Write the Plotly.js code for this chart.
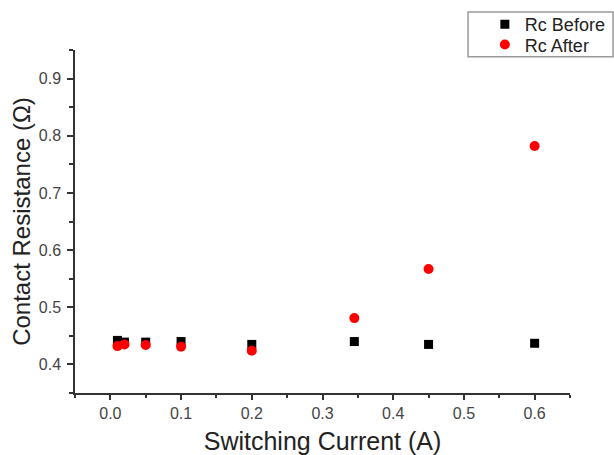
<!DOCTYPE html>
<html><head><meta charset="utf-8">
<script src="https://cdn.plot.ly/plotly-3.0.1.min.js"></script>
<style>html,body{margin:0;padding:0;background:#fff}#c{width:614px;height:455px}</style>
</head><body><div id="c"></div>
<script>
const current = [0.01, 0.02, 0.05, 0.1, 0.2, 0.345, 0.45, 0.6];
const rcBefore = [0.442, 0.439, 0.439, 0.440, 0.435, 0.440, 0.435, 0.437];
const rcAfter = [0.432, 0.435, 0.434, 0.431, 0.424, 0.481, 0.567, 0.782];

const FONT = 'Liberation Sans, Arial, sans-serif';
const data = [
  {x: current, y: rcBefore, mode: 'markers', type: 'scatter', name: 'Rc Before', legend: 'legend',
   marker: {symbol: 'square', size: 9, color: '#000'}},
  {x: current, y: rcAfter, mode: 'markers', type: 'scatter', name: 'Rc After', legend: 'legend2',
   marker: {symbol: 'circle', size: 10, color: '#ff0000'}}
];
const axisCommon = {showgrid: false, zeroline: false, showline: true, linecolor: '#333', linewidth: 1.5,
  ticks: 'outside', tickwidth: 1.5, tickcolor: '#333', automargin: false,
  tickfont: {family: FONT, size: 16, color: '#444'}};
const legCommon = {xanchor: 'left', yanchor: 'middle', borderwidth: 0, bgcolor: 'rgba(0,0,0,0)',
  font: {family: FONT, size: 18, color: '#222'}, itemwidth: 30};
const layout = {
  width: 614, height: 455,
  margin: {l: 75, r: 44, t: 50, b: 62, autoexpand: false},
  paper_bgcolor: '#fff', plot_bgcolor: '#fff',
  showlegend: true,
  legend: Object.assign({}, legCommon, {x: 0.828, y: 1.074}),
  legend2: Object.assign({}, legCommon, {x: 0.828, y: 1.015}),
  shapes: [{type: 'rect', xref: 'paper', yref: 'paper', x0: 0.794, x1: 1.087, y0: 0.980, y1: 1.111,
    line: {color: '#999', width: 1.5}, fillcolor: 'rgba(0,0,0,0)'}],
  xaxis: Object.assign({}, axisCommon, {range: [-0.05, 0.65], dtick: 0.1, tick0: 0, tickformat: '.1f', ticklen: 5,
    minor: {dtick: 0.05, ticks: 'outside', ticklen: 3, tickcolor: '#333', tickwidth: 1.5},
    title: {text: 'Switching Current (A)', font: {family: FONT, size: 25, color: '#222'}, standoff: 12}}),
  yaxis: Object.assign({}, axisCommon, {range: [0.35, 0.95], dtick: 0.1, tick0: 0, tickformat: '.1f', ticklen: 6,
    ticklabelstandoff: 3,
    minor: {dtick: 0.05, ticks: 'outside', ticklen: 4, tickcolor: '#333', tickwidth: 1.5},
    title: {text: 'Contact Resistance (Ω)', font: {family: FONT, size: 24, color: '#222'}, standoff: 1}})
};
Plotly.newPlot('c', data, layout, {displayModeBar: false});
</script></body></html>
